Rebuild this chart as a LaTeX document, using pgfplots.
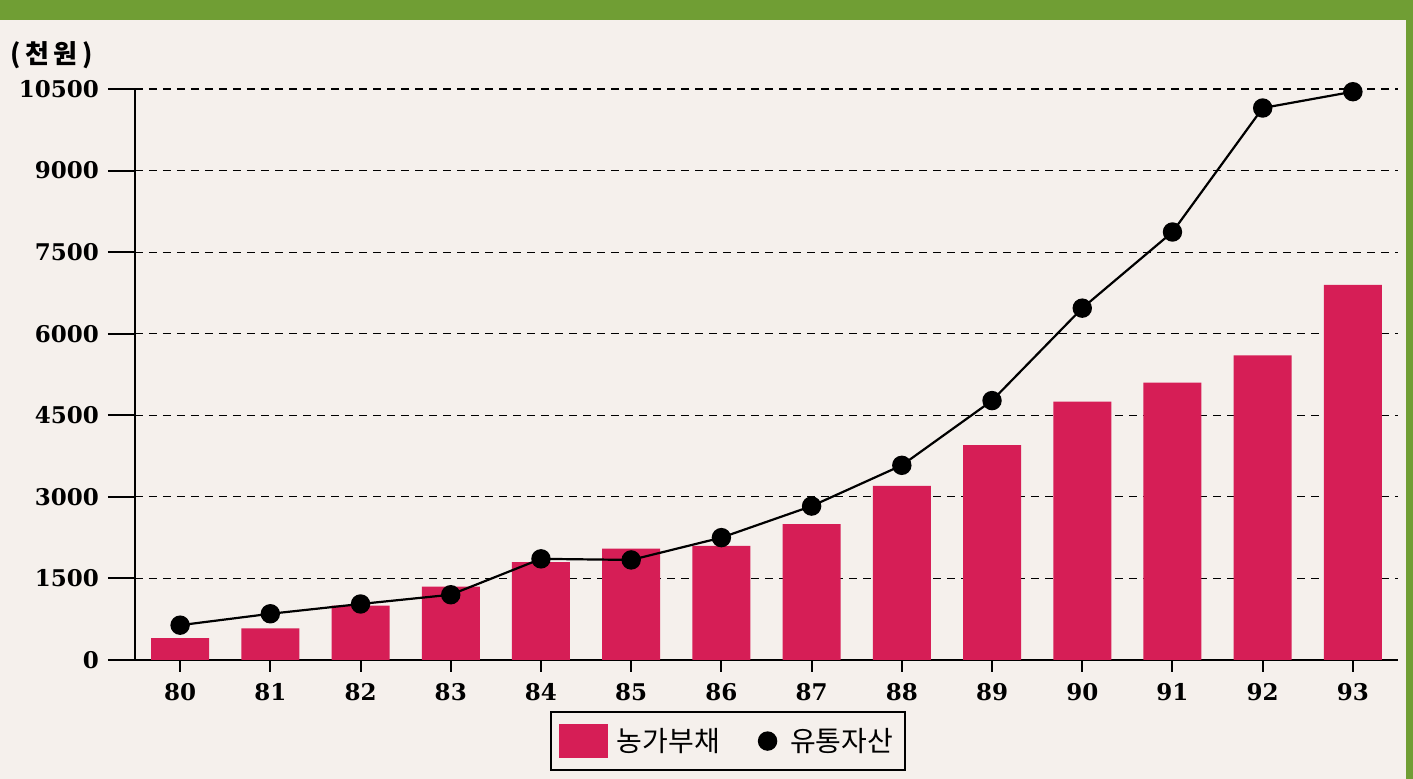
\documentclass[border=0pt]{standalone}
\usepackage{fontspec}
\setmainfont{DejaVu Serif}
\newfontfamily\kr{Noto Sans CJK KR}
\usepackage{pgfplots}
\usepackage{pgfplotstable}
\pgfplotsset{compat=1.18}

\definecolor{barred}{RGB}{214,30,86}
\definecolor{paper}{RGB}{245,240,236}
\definecolor{band}{RGB}{112,158,52}

% 농가부채(bar) and 유통자산(line), thousand won
\pgfplotstableread{
x debt asset
0 400 640
1 580 850
2 1000 1030
3 1350 1200
4 1800 1860
5 2050 1840
6 2100 2250
7 2500 2830
8 3200 3580
9 3950 4770
10 4750 6470
11 5100 7870
12 5600 10150
13 6900 10450
}\data

\begin{document}
\begin{tikzpicture}
% paper of the scan
\fill[paper] (-67.5pt,-59.5pt) rectangle (639pt,330pt);
\fill[band] (-67.5pt,320pt) rectangle (639pt,330pt);
\fill[band] (635.5pt,-59.5pt) rectangle (639pt,330pt);

\begin{axis}[
    at={(0,0)}, anchor=south west,
    scale only axis,
    width=631.5pt, height=285.5pt,
    clip mode=individual,
    xmin=-0.5, xmax=13.5,
    ymin=0, ymax=10500,
    axis lines=left,
    axis line style={-, line width=1pt, black},
    xtick={0,...,13},
    xticklabels={80,81,82,83,84,85,86,87,88,89,90,91,92,93},
    ytick={0,1500,...,10500},
    scaled y ticks=false,
    tick align=inside,
    % ticks sit outside the axis: drawn inside, then pushed out
    xtick style={/pgfplots/major tick length=6pt, yshift=-6pt, line width=1pt, black},
    ytick style={/pgfplots/major tick length=13.5pt, xshift=-13.5pt, line width=1pt, black},
    xticklabel style={yshift=-8pt},
    yticklabel style={xshift=-14.5pt},
    ymajorgrids,
    grid style={black, line width=0.6pt, dash pattern=on 4pt off 3pt},
    tick label style={font=\bfseries\fontsize{11.5}{14}\selectfont},
    /pgf/number format/assume math mode=true,
    /pgf/number format/1000 sep={},
    legend style={at={(axis description cs:0.4695,-0.142)}, anchor=center,
      draw=black, line width=0.8pt, fill=none,
      legend columns=2,
      font=\kr\fontsize{14}{16}\selectfont,
      /tikz/every even column/.append style={column sep=17pt},
      inner xsep=4pt, inner ysep=6pt},
  ]
  \addplot[ybar, bar width=29pt, bar shift=0pt, fill=barred, draw=none,
    legend image code/.code={\fill[barred] (0pt,-8.5pt) rectangle (24.5pt,8.5pt);
      \path (27pt,0pt);}]
    table[x=x, y=debt]{\data};
  \addlegendentry{농가부채}

  \addplot[black, line width=1.1pt, mark=*, mark size=4.3pt, mark options={fill=black},
    legend image code/.code={\fill[black] (4.3pt,0pt) circle (4.3pt);
      \path (13pt,0pt);}]
    table[x=x, y=asset]{\data};
  \addlegendentry{유통자산}

  \node[font=\kr\bfseries\fontsize{13}{15}\selectfont] at (axis description cs:-0.066,1.06) {(\,천\,원\,)};
\end{axis}
\end{tikzpicture}
\end{document}
